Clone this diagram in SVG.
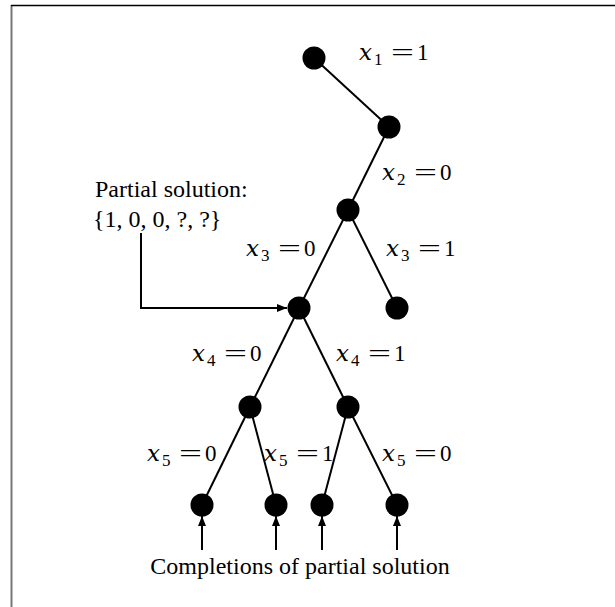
<svg xmlns="http://www.w3.org/2000/svg" width="615" height="607" viewBox="0 0 615 607">
<defs>
<style>
.edge{stroke:#000;stroke-width:2;fill:none}
.node{fill:#000}
.t{font-family:"Liberation Serif","Times New Roman",serif;font-size:24px;fill:#000}
.m{font-family:"Liberation Serif","Times New Roman",serif;font-size:23px;fill:#000}
.i{font-family:"DejaVu Serif","Liberation Serif",serif;font-style:italic;font-size:23px}
.s{font-size:17px}
</style>
<marker id="ah" viewBox="0 0 10 10" refX="10" refY="5" markerWidth="10" markerHeight="10" markerUnits="userSpaceOnUse" orient="auto">
<path d="M0,1 L10,5 L0,9 z" fill="#000"/>
</marker>
</defs>
<rect width="615" height="607" fill="#fff"/>
<g id="frame">
<line x1="11.5" y1="5" x2="11.5" y2="607" stroke="#777" stroke-width="2"/>
<line x1="11" y1="5.5" x2="615" y2="5.5" stroke="#000" stroke-width="1.5"/>
</g>
<g id="connectors">
<line class="edge" x1="314" y1="58" x2="389" y2="127"/>
<line class="edge" x1="389" y1="127" x2="348" y2="210"/>
<line class="edge" x1="348" y1="210" x2="397" y2="308"/>
<line class="edge" x1="348" y1="210" x2="299" y2="308"/>
<line class="edge" x1="299" y1="308" x2="250" y2="407"/>
<line class="edge" x1="299" y1="308" x2="348" y2="407"/>
<line class="edge" x1="250" y1="407" x2="202" y2="505"/>
<line class="edge" x1="250" y1="407" x2="276" y2="505"/>
<line class="edge" x1="348" y1="407" x2="322" y2="505"/>
<line class="edge" x1="348" y1="407" x2="397" y2="505"/>
<polyline class="edge" points="141,233 141,308 287,308" marker-end="url(#ah)"/>
<line class="edge" x1="202" y1="550" x2="202" y2="516" marker-end="url(#ah)"/>
<line class="edge" x1="276" y1="550" x2="276" y2="516" marker-end="url(#ah)"/>
<line class="edge" x1="322" y1="550" x2="322" y2="516" marker-end="url(#ah)"/>
<line class="edge" x1="397" y1="550" x2="397" y2="516" marker-end="url(#ah)"/>
</g>
<g id="n1"><circle class="node" cx="314" cy="58" r="11.5"/></g>
<g id="n2"><circle class="node" cx="389" cy="127" r="11.5"/></g>
<g id="n3"><circle class="node" cx="348" cy="210" r="11.5"/></g>
<g id="n4"><circle class="node" cx="397" cy="308" r="11.5"/></g>
<g id="n5"><circle class="node" cx="299" cy="308" r="11.5"/></g>
<g id="n6"><circle class="node" cx="250" cy="407" r="11.5"/></g>
<g id="n7"><circle class="node" cx="348" cy="407" r="11.5"/></g>
<g id="n8"><circle class="node" cx="202" cy="505" r="11.5"/></g>
<g id="n9"><circle class="node" cx="276" cy="505" r="11.5"/></g>
<g id="n10"><circle class="node" cx="322" cy="505" r="11.5"/></g>
<g id="n11"><circle class="node" cx="397" cy="505" r="11.5"/></g>
<g id="labels">
<text class="m"><tspan class="i" x="359" y="60">x</tspan><tspan class="s" x="374" y="65">1</tspan><tspan x="391" y="60" textLength="23" lengthAdjust="spacingAndGlyphs">=</tspan><tspan x="417" y="60">1</tspan></text>
<text class="m"><tspan class="i" x="382" y="180">x</tspan><tspan class="s" x="397" y="185">2</tspan><tspan x="414" y="180" textLength="23" lengthAdjust="spacingAndGlyphs">=</tspan><tspan x="440" y="180">0</tspan></text>
<text class="m"><tspan class="i" x="246" y="256">x</tspan><tspan class="s" x="261" y="261">3</tspan><tspan x="278" y="256" textLength="23" lengthAdjust="spacingAndGlyphs">=</tspan><tspan x="304" y="256">0</tspan></text>
<text class="m"><tspan class="i" x="386" y="256">x</tspan><tspan class="s" x="401" y="261">3</tspan><tspan x="418" y="256" textLength="23" lengthAdjust="spacingAndGlyphs">=</tspan><tspan x="444" y="256">1</tspan></text>
<text class="m"><tspan class="i" x="192" y="361">x</tspan><tspan class="s" x="207" y="366">4</tspan><tspan x="224" y="361" textLength="23" lengthAdjust="spacingAndGlyphs">=</tspan><tspan x="250" y="361">0</tspan></text>
<text class="m"><tspan class="i" x="336" y="361">x</tspan><tspan class="s" x="351" y="366">4</tspan><tspan x="368" y="361" textLength="23" lengthAdjust="spacingAndGlyphs">=</tspan><tspan x="394" y="361">1</tspan></text>
<text class="m"><tspan class="i" x="147" y="461">x</tspan><tspan class="s" x="162" y="466">5</tspan><tspan x="179" y="461" textLength="23" lengthAdjust="spacingAndGlyphs">=</tspan><tspan x="205" y="461">0</tspan></text>
<text class="m"><tspan class="i" x="264" y="461">x</tspan><tspan class="s" x="279" y="466">5</tspan><tspan x="296" y="461" textLength="23" lengthAdjust="spacingAndGlyphs">=</tspan><tspan x="322" y="461">1</tspan></text>
<text class="m"><tspan class="i" x="382" y="461">x</tspan><tspan class="s" x="397" y="466">5</tspan><tspan x="414" y="461" textLength="23" lengthAdjust="spacingAndGlyphs">=</tspan><tspan x="440" y="461">0</tspan></text>
<text class="t" x="95" y="197">Partial solution:</text>
<text class="t" x="93" y="227">{1, 0, 0, ?, ?}</text>
<text class="t" x="300" y="574" text-anchor="middle">Completions of partial solution</text>
</g>
</svg>
